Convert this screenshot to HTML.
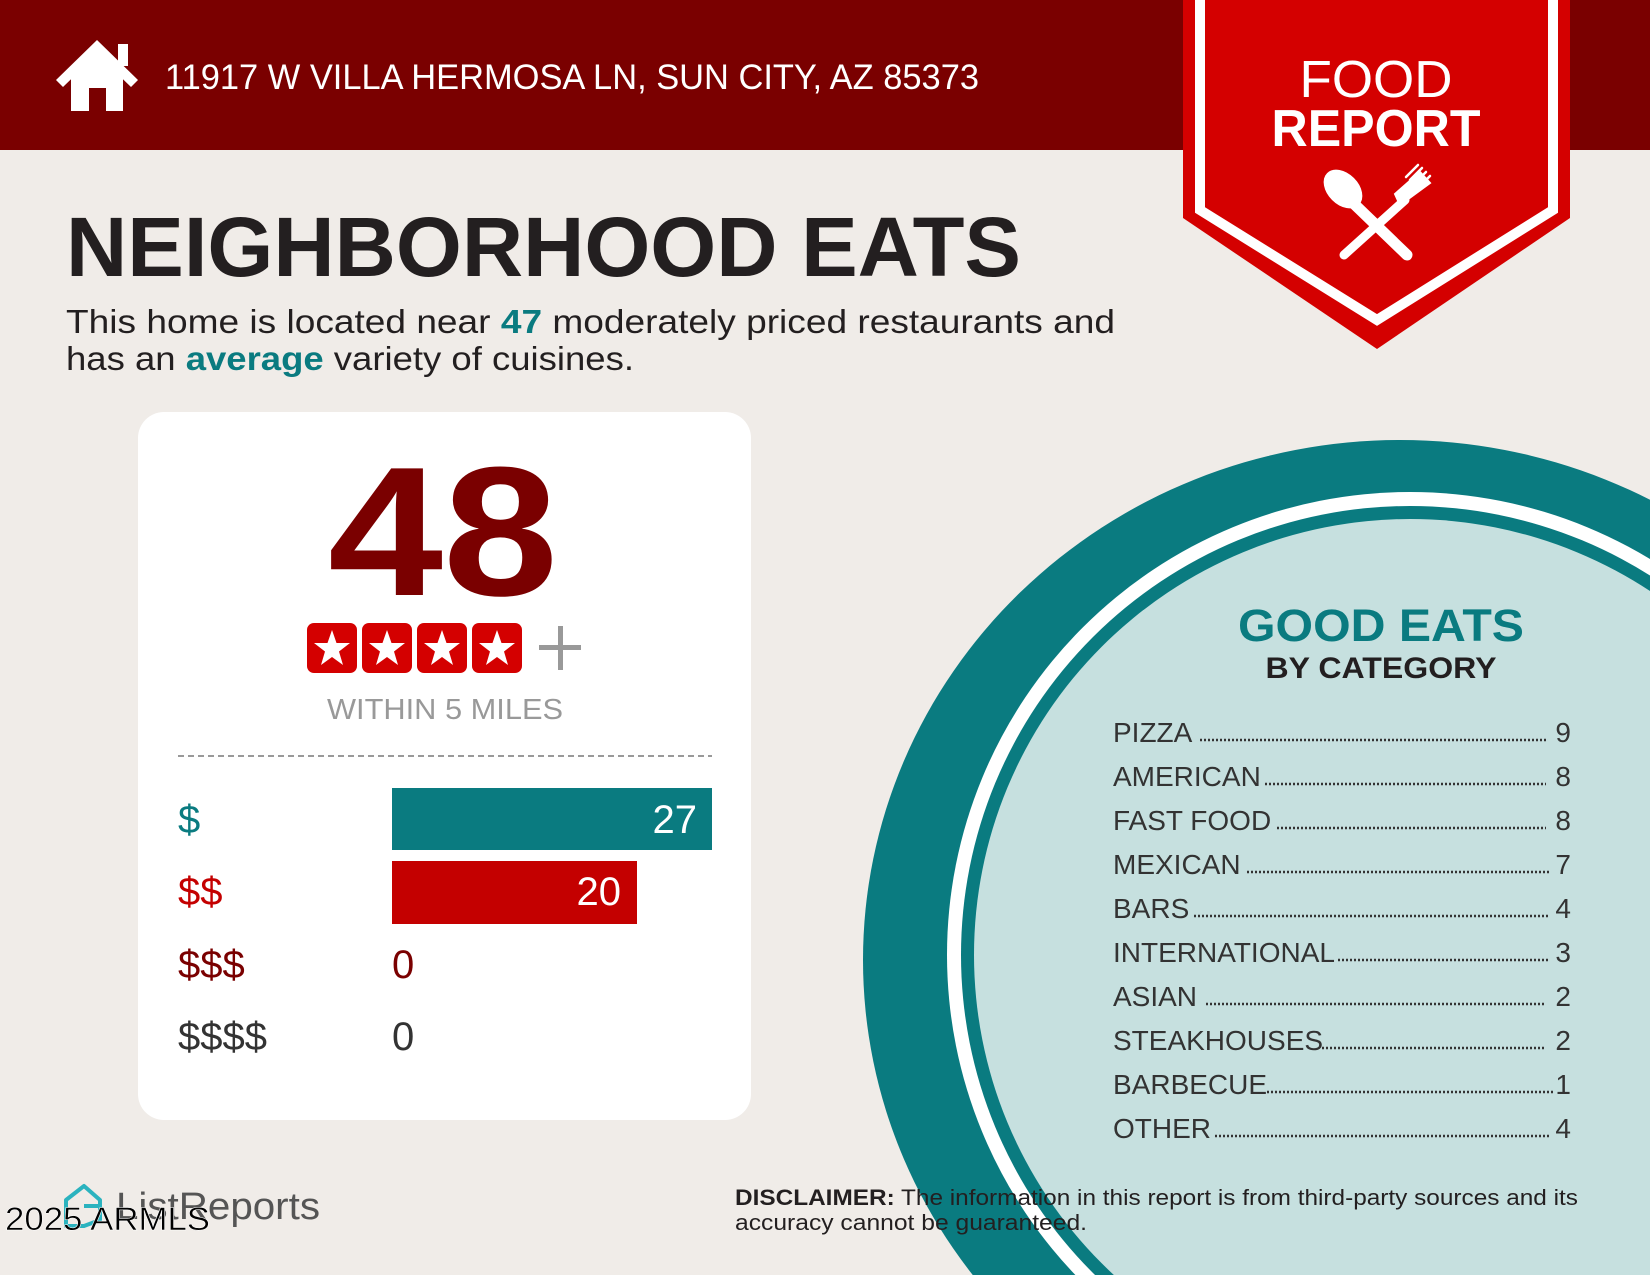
<!DOCTYPE html>
<html><head><meta charset="utf-8"><style>html,body{margin:0;padding:0;background:#f0ece8;width:1650px;height:1275px;overflow:hidden}svg{display:block}</style></head>
<body>
<svg width="1650" height="1275" viewBox="0 0 1650 1275" xmlns="http://www.w3.org/2000/svg" font-family="Liberation Sans, sans-serif">
<rect width="1650" height="1275" fill="#f0ece8"/>
<!-- header -->
<rect width="1650" height="150" fill="#7a0000"/>
<g fill="#fff">
<polygon points="56,80 97,40 138,80 131,87 97,54 63,87"/>
<rect x="118" y="44" width="10" height="22"/>
<path d="M71,76 L97,52 L123,76 V111 H106 V88 H89 V111 H71 Z"/>
</g>
<text x="165" y="89" font-size="35" fill="#fff" textLength="814" lengthAdjust="spacingAndGlyphs">11917 W VILLA HERMOSA LN, SUN CITY, AZ 85373</text>
<!-- banner -->
<polygon points="1183,0 1570,0 1570,218 1377,349 1183,218" fill="#d40000"/>
<polyline points="1200,0 1200,210 1377,320 1553,210 1553,0" fill="none" stroke="#fff" stroke-width="10"/>
<text x="1376" y="97" font-size="52" fill="#fff" text-anchor="middle" textLength="153" lengthAdjust="spacingAndGlyphs">FOOD</text>
<text x="1376" y="146" font-size="52" font-weight="bold" fill="#fff" text-anchor="middle" textLength="209" lengthAdjust="spacingAndGlyphs">REPORT</text>
<g stroke="#fff" stroke-linecap="round" fill="#fff">
<line x1="1350" y1="200" x2="1407" y2="255" stroke-width="11"/>
<ellipse cx="1343" cy="189" rx="15" ry="22" transform="rotate(-45 1343 189)"/>
<line x1="1344" y1="255" x2="1405" y2="200" stroke-width="9"/>
<path d="M1400,205 L1395,194 L1420,172 L1430,183 Z" stroke-width="2"/>
<g stroke-width="2.5"><line x1="1410" y1="180" x2="1422" y2="168"/><line x1="1414" y1="184" x2="1426" y2="172"/><line x1="1418" y1="188" x2="1430" y2="176"/><line x1="1406" y1="177" x2="1418" y2="165"/></g>
</g>
<!-- title -->
<text x="66" y="276" font-size="84" font-weight="bold" fill="#231f20" textLength="955" lengthAdjust="spacingAndGlyphs">NEIGHBORHOOD EATS</text>
<text x="66" y="333" font-size="33" fill="#231f20" textLength="1049" lengthAdjust="spacingAndGlyphs">This home is located near <tspan fill="#0a7b80" font-weight="bold">47</tspan> moderately priced restaurants and</text>
<text x="66" y="370" font-size="33" fill="#231f20" textLength="568" lengthAdjust="spacingAndGlyphs">has an <tspan fill="#0a7b80" font-weight="bold">average</tspan> variety of cuisines.</text>
<!-- card -->
<rect x="138" y="412" width="613" height="708" rx="26" fill="#fff"/>
<text x="443" y="595" font-size="184" font-weight="bold" fill="#7a0000" text-anchor="middle" textLength="230" lengthAdjust="spacingAndGlyphs">48</text>
<g>
<rect x="307" y="623" width="50" height="50" rx="7" fill="#d40000"/>
<rect x="362" y="623" width="50" height="50" rx="7" fill="#d40000"/>
<rect x="417" y="623" width="50" height="50" rx="7" fill="#d40000"/>
<rect x="472" y="623" width="50" height="50" rx="7" fill="#d40000"/>
<g fill="#fff">
<polygon transform="translate(332,649)" points="0,-19 4.5,-6 18,-6 7,2.5 11,16 0,8 -11,16 -7,2.5 -18,-6 -4.5,-6"/>
<polygon transform="translate(387,649)" points="0,-19 4.5,-6 18,-6 7,2.5 11,16 0,8 -11,16 -7,2.5 -18,-6 -4.5,-6"/>
<polygon transform="translate(442,649)" points="0,-19 4.5,-6 18,-6 7,2.5 11,16 0,8 -11,16 -7,2.5 -18,-6 -4.5,-6"/>
<polygon transform="translate(497,649)" points="0,-19 4.5,-6 18,-6 7,2.5 11,16 0,8 -11,16 -7,2.5 -18,-6 -4.5,-6"/>
</g>
<rect x="539" y="645" width="42" height="5" fill="#999"/>
<rect x="558" y="626" width="5" height="44" fill="#999"/>
</g>
<text x="445" y="719" font-size="29" fill="#999" text-anchor="middle" textLength="236" lengthAdjust="spacingAndGlyphs">WITHIN 5 MILES</text>
<line x1="178" y1="756" x2="712" y2="756" stroke="#999" stroke-width="2" stroke-dasharray="6,4"/>
<rect x="392" y="788" width="320" height="62" fill="#0a7b80"/>
<rect x="392" y="861" width="245" height="63" fill="#c40000"/>
<g font-size="40">
<text x="178" y="833" fill="#0a7b80">$</text>
<text x="178" y="905" fill="#c40000">$$</text>
<text x="178" y="978" fill="#7a0000">$$$</text>
<text x="178" y="1050" fill="#333">$$$$</text>
<text x="697" y="833" fill="#fff" text-anchor="end">27</text>
<text x="621" y="905" fill="#fff" text-anchor="end">20</text>
<text x="392" y="978" fill="#7a0000">0</text>
<text x="392" y="1050" fill="#333">0</text>
</g>
<!-- circle -->
<ellipse cx="1400" cy="960" rx="537" ry="520" fill="#0a7b80"/>
<circle cx="1410" cy="955" r="463" fill="#fff"/>
<circle cx="1410" cy="955" r="449" fill="#0a7b80"/>
<circle cx="1410" cy="955" r="436" fill="#c6e0df"/>
<text x="1381" y="641" font-size="45" font-weight="bold" fill="#0a7b80" text-anchor="middle" textLength="286" lengthAdjust="spacingAndGlyphs">GOOD EATS</text>
<text x="1381" y="678" font-size="30" font-weight="bold" fill="#231f20" text-anchor="middle" textLength="231" lengthAdjust="spacingAndGlyphs">BY CATEGORY</text>
<g font-size="28" fill="#333">
<g><text x="1113" y="742">PIZZA</text><text x="1571" y="742" text-anchor="end">9</text><line x1="1200" y1="740" x2="1546" y2="740" stroke="#333" stroke-width="2.5" stroke-dasharray="2,2"/></g>
<g transform="translate(0,44)"><text x="1113" y="742">AMERICAN</text><text x="1571" y="742" text-anchor="end">8</text><line x1="1265" y1="740" x2="1546" y2="740" stroke="#333" stroke-width="2.5" stroke-dasharray="2,2"/></g>
<g transform="translate(0,88)"><text x="1113" y="742">FAST FOOD</text><text x="1571" y="742" text-anchor="end">8</text><line x1="1277" y1="740" x2="1546" y2="740" stroke="#333" stroke-width="2.5" stroke-dasharray="2,2"/></g>
<g transform="translate(0,132)"><text x="1113" y="742">MEXICAN</text><text x="1571" y="742" text-anchor="end">7</text><line x1="1247" y1="740" x2="1549" y2="740" stroke="#333" stroke-width="2.5" stroke-dasharray="2,2"/></g>
<g transform="translate(0,176)"><text x="1113" y="742">BARS</text><text x="1571" y="742" text-anchor="end">4</text><line x1="1194" y1="740" x2="1549" y2="740" stroke="#333" stroke-width="2.5" stroke-dasharray="2,2"/></g>
<g transform="translate(0,220)"><text x="1113" y="742">INTERNATIONAL</text><text x="1571" y="742" text-anchor="end">3</text><line x1="1338" y1="740" x2="1549" y2="740" stroke="#333" stroke-width="2.5" stroke-dasharray="2,2"/></g>
<g transform="translate(0,264)"><text x="1113" y="742">ASIAN</text><text x="1571" y="742" text-anchor="end">2</text><line x1="1206" y1="740" x2="1546" y2="740" stroke="#333" stroke-width="2.5" stroke-dasharray="2,2"/></g>
<g transform="translate(0,308)"><text x="1113" y="742">STEAKHOUSES</text><text x="1571" y="742" text-anchor="end">2</text><line x1="1322" y1="740" x2="1546" y2="740" stroke="#333" stroke-width="2.5" stroke-dasharray="2,2"/></g>
<g transform="translate(0,352)"><text x="1113" y="742">BARBECUE</text><text x="1571" y="742" text-anchor="end">1</text><line x1="1267" y1="740" x2="1555" y2="740" stroke="#333" stroke-width="2.5" stroke-dasharray="2,2"/></g>
<g transform="translate(0,396)"><text x="1113" y="742">OTHER</text><text x="1571" y="742" text-anchor="end">4</text><line x1="1215" y1="740" x2="1549" y2="740" stroke="#333" stroke-width="2.5" stroke-dasharray="2,2"/></g>
</g>
<!-- disclaimer -->
<text x="735" y="1205" font-size="22" fill="#231f20" textLength="843" lengthAdjust="spacingAndGlyphs"><tspan font-weight="bold">DISCLAIMER:</tspan> The information in this report is from third-party sources and its</text>
<text x="735" y="1230" font-size="22" fill="#231f20" textLength="352" lengthAdjust="spacingAndGlyphs">accuracy cannot be guaranteed.</text>
<!-- footer logo -->
<path d="M66,1200 L84,1186 L100,1200 V1220 L84,1226 H66 Z M84,1206 H98" fill="none" stroke="#2bb3bf" stroke-width="4" stroke-linejoin="round"/>
<text x="116" y="1219" font-size="38" fill="#555" textLength="204" lengthAdjust="spacingAndGlyphs">ListReports</text>
<text x="5" y="1230" font-size="32" fill="#000" stroke="#fff" stroke-width="0.5" textLength="205" lengthAdjust="spacingAndGlyphs">2025 ARMLS</text>
</svg>
</body></html>
